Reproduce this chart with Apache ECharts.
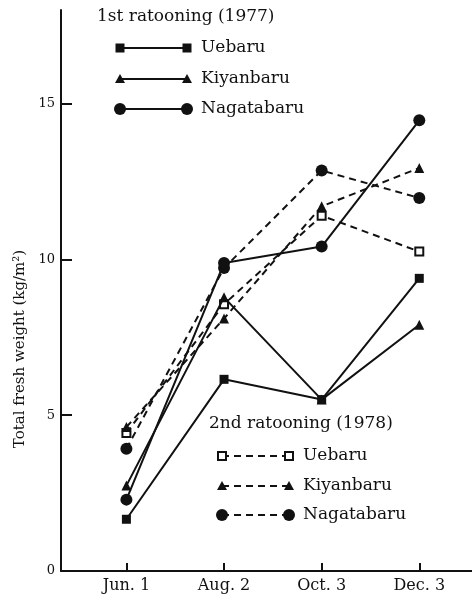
<!doctype html>
<html>
<head>
	<meta charset="utf-8">
	<title>Total fresh weight</title>
	<style>
		html, body { margin: 0; padding: 0; background: #fff; }
		#main { width: 472px; height: 597px; }
	</style>
</head>
<body>
<div id="main"></div>
<script src="https://cdn.jsdelivr.net/npm/echarts@6/dist/echarts.min.js"></script>
<script>
	// sampling dates
	var dates = ['Jun. 1', 'Aug. 2', 'Oct. 3', 'Dec. 3']
	// 1st ratooning (1977), kg/m2
	var uebaru1 = [1.66, 6.15, 5.5, 9.39]
	var kiyanbaru1 = [2.74, 8.78, 5.5, 7.9]
	var nagatabaru1 = [2.29, 9.88, 10.41, 14.46]
	// 2nd ratooning (1978)
	var uebaru2 = [4.43, 8.56, 11.4, 10.25]
	var kiyanbaru2 = [4.62, 8.1, 11.7, 12.93]
	var nagatabaru2 = [3.92, 9.72, 12.85, 11.97]
	var yTicks = [0, 5, 10, 15]

	var font = '"DejaVu Serif", "Liberation Serif", serif'
	var ink = '#111'

	function pts(arr) {
		var out = []
		for (var i = 0; i < arr.length; i++) out.push([i, arr[i]])
		return out
	}

	var kinds = {
		square: { symbol: 'rect', size: 9, fill: ink },
		open: { symbol: 'rect', size: 8, fill: '#fff' },
		tri: { symbol: 'triangle', size: 10, fill: ink },
		circle: { symbol: 'circle', size: 12, fill: ink }
	}

	function line(name, data, kind, dashed) {
		var k = kinds[kind]
		return {
			name: name,
			type: 'line',
			data: pts(data),
			symbol: k.symbol,
			symbolSize: k.size,
			showAllSymbol: true,
			lineStyle: { color: ink, width: 2, type: dashed ? [7, 5] : 'solid' },
			itemStyle: { color: k.fill, borderColor: ink, borderWidth: kind == 'open' ? 2 : 0 },
			emphasis: { disabled: true },
			animation: false,
			z: dashed ? 3 : 4
		}
	}

	// legend sample: a short line with a marker at each end
	function legendRow(x1, x2, y, label, kind, dashed) {
		var k = kinds[kind]
		var els = [{
			type: 'line',
			shape: { x1: x1, y1: y, x2: x2, y2: y },
			style: { stroke: ink, lineWidth: 2, lineDash: dashed ? [7, 5] : null }
		}]
		;[x1, x2].forEach(function (x) {
			var s = k.size
			if (kind == 'circle') {
				els.push({ type: 'circle', shape: { cx: x, cy: y, r: s / 2 }, style: { fill: ink } })
			} else if (kind == 'tri') {
				els.push({ type: 'polygon', shape: { points: [[x, y - s / 2], [x + s / 2, y + s / 2 - 1], [x - s / 2, y + s / 2 - 1]] }, style: { fill: ink } })
			} else {
				els.push({ type: 'rect', shape: { x: x - s / 2, y: y - s / 2, width: s, height: s },
					style: { fill: k.fill, stroke: ink, lineWidth: kind == 'open' ? 2 : 0 } })
			}
		})
		els.push({ type: 'text', x: x2 + 14, y: y, style: { text: label, font: '17px ' + font, fill: ink, verticalAlign: 'middle' } })
		return els
	}

	var graphics = [].concat(
		[{ type: 'text', x: 97, y: 17, style: { text: '1st ratooning (1977)', font: '17px ' + font, fill: ink, verticalAlign: 'middle' } }],
		legendRow(120, 187, 48, 'Uebaru', 'square', false),
		legendRow(120, 187, 79, 'Kiyanbaru', 'tri', false),
		legendRow(120, 187, 109, 'Nagatabaru', 'circle', false),
		[{ type: 'text', x: 209, y: 424, style: { text: '2nd ratooning (1978)', font: '17px ' + font, fill: ink, verticalAlign: 'middle' } }],
		legendRow(222, 289, 456, 'Uebaru', 'open', true),
		legendRow(222, 289, 486, 'Kiyanbaru', 'tri', true),
		legendRow(222, 289, 515, 'Nagatabaru', 'circle', true),
		[{ type: 'text', x: 20, y: 349, rotation: Math.PI / 2,
			style: { text: 'Total fresh weight (kg/m²)', font: '15px ' + font, fill: ink, align: 'center', verticalAlign: 'middle' } }]
	)

	var myChart = echarts.init(document.getElementById('main'))
	var option = {
		backgroundColor: '#fff',
		animation: false,
		grid: { left: 61, right: 0, top: 10, bottom: 26, containLabel: false },
		xAxis: {
			type: 'value',
			min: -0.67,
			max: 3.54,
			axisLine: { lineStyle: { color: ink, width: 2 } },
			axisTick: { inside: true, length: 8, lineStyle: { color: ink, width: 2 }, customValues: [0, 1, 2, 3] },
			axisLabel: {
				customValues: [0, 1, 2, 3],
				formatter: function (v) { return dates[Math.round(v)] },
				color: ink, fontFamily: font, fontSize: 16, margin: 7
			},
			splitLine: { show: false }
		},
		yAxis: {
			type: 'value',
			min: 0,
			max: 18,
			axisLine: { show: true, onZero: false, lineStyle: { color: ink, width: 2 } },
			axisTick: { show: true, inside: true, length: 11, lineStyle: { color: ink, width: 2 }, customValues: yTicks },
			axisLabel: { customValues: yTicks, color: ink, fontFamily: font, fontSize: 13, margin: 6 },
			splitLine: { show: false }
		},
		series: [
			line('Uebaru 1977', uebaru1, 'square', false),
			line('Kiyanbaru 1977', kiyanbaru1, 'tri', false),
			line('Nagatabaru 1977', nagatabaru1, 'circle', false),
			line('Uebaru 1978', uebaru2, 'open', true),
			line('Kiyanbaru 1978', kiyanbaru2, 'tri', true),
			line('Nagatabaru 1978', nagatabaru2, 'circle', true)
		],
		graphic: graphics
	}
	myChart.setOption(option)
</script>
</body>
</html>
